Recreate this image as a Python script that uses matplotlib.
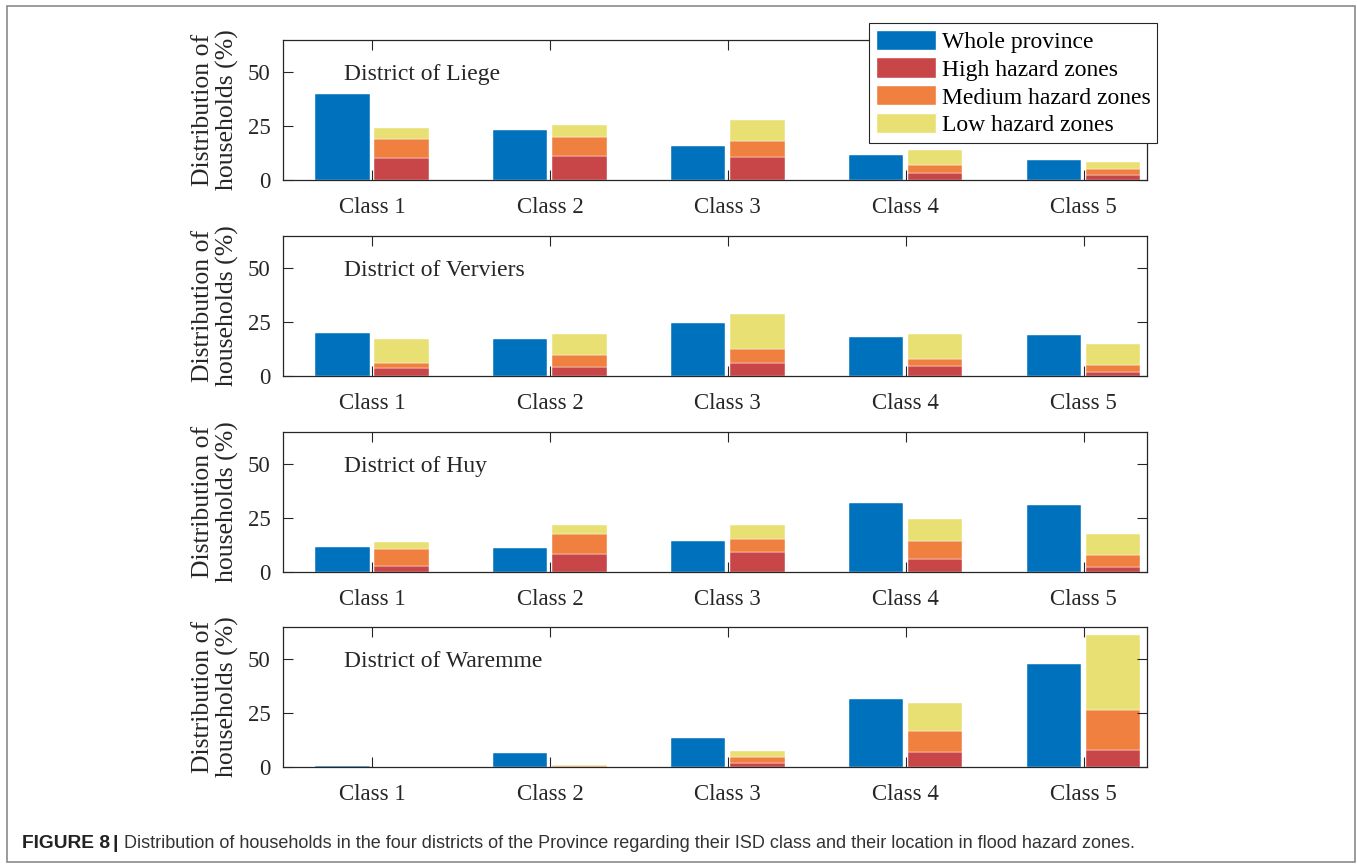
# Household distribution by ISD class and flood hazard zone, four districts

import matplotlib.pyplot as plt
from matplotlib.patches import Patch, Rectangle
import numpy as np

classes = ['Class 1', 'Class 2', 'Class 3', 'Class 4', 'Class 5']
districts = ['District of Liege', 'District of Verviers',
             'District of Huy', 'District of Waremme']

# whole province share (%) per class, one list per district
whole = [
    [39.7, 23.3, 15.6, 11.6, 9.1],
    [20.0, 17.1, 24.8, 18.2, 19.1],
    [11.7, 10.9, 14.2, 31.9, 30.9],
    [0.3, 6.5, 13.4, 31.5, 48.0],
]
# hazard zone shares (%), stacked high -> medium -> low
high = [
    [10.2, 11.3, 10.6, 3.4, 2.2],
    [3.7, 4.3, 6.1, 4.7, 1.9],
    [3.0, 8.3, 9.1, 6.2, 2.5],
    [0.0, 0.1, 1.7, 7.0, 8.1],
]
medium = [
    [8.9, 8.5, 7.5, 3.7, 2.9],
    [2.2, 5.5, 6.3, 3.2, 3.1],
    [7.6, 9.5, 6.2, 8.0, 5.2],
    [0.0, 0.2, 2.8, 9.8, 18.5],
]
low = [
    [5.1, 5.5, 9.7, 6.6, 3.2],
    [11.2, 9.5, 16.2, 11.8, 9.8],
    [3.5, 4.1, 6.3, 10.3, 10.0],
    [0.0, 0.7, 3.1, 13.1, 34.8],
]
yticks = [0, 25, 50]

c_whole = '#0072BD'
c_high = '#C84648'
c_med = '#F08040'
c_low = '#E8E072'

plt.rcParams['font.family'] = ['Liberation Serif', 'DejaVu Serif']

fig = plt.figure(figsize=(13.57, 8.64), dpi=100)

x = np.arange(1, len(classes) + 1)
w = 0.305
off = 0.166
bottoms = [0.7917, 0.5648, 0.3380, 0.1123]

for i, name in enumerate(districts):
    ax = fig.add_axes([0.2085, bottoms[i], 0.6367, 0.162])
    ek = dict(edgecolor='white', linewidth=0.3)
    ax.bar(x - off, whole[i], w, color=c_whole, **ek)
    h = np.array(high[i])
    m = np.array(medium[i])
    l = np.array(low[i])
    ax.bar(x + off, h, w, color=c_high, **ek)
    ax.bar(x + off, m, w, bottom=h, color=c_med, **ek)
    ax.bar(x + off, l, w, bottom=h + m, color=c_low, **ek)

    ax.set_xlim(0.5, 5.355)
    ax.set_ylim(0, 65)
    ax.set_xticks(x)
    ax.set_xticklabels(classes)
    ax.set_yticks(yticks)
    ax.tick_params(direction='in', length=7, width=0.8, top=True, right=True,
                   labelsize=16.5, colors='#262626')
    ax.tick_params(axis='x', pad=12)
    ax.tick_params(axis='y', pad=9)
    for s in ax.spines.values():
        s.set_color('#262626')
        s.set_linewidth(0.9)
    ax.set_ylabel('Distribution of\nhouseholds (%)', fontsize=18.5,
                  color='#262626', labelpad=6, linespacing=1.15)
    ax.text(0.0706, 0.757, name, transform=ax.transAxes, fontsize=17,
            va='center', ha='left', color='#262626')

handles = [Patch(facecolor=c_whole, edgecolor='white'),
           Patch(facecolor=c_high, edgecolor='white'),
           Patch(facecolor=c_med, edgecolor='white'),
           Patch(facecolor=c_low, edgecolor='white')]
labels = ['Whole province', 'High hazard zones', 'Medium hazard zones',
          'Low hazard zones']
leg = fig.legend(handles, labels, loc='upper right',
                 bbox_to_anchor=(0.8526, 0.9734), fontsize=17,
                 handlelength=2.55, handleheight=0.93, handletextpad=0.25,
                 labelspacing=0.2, borderpad=0.28, borderaxespad=0,
                 fancybox=False, framealpha=1, edgecolor='#262626')
leg.get_frame().set_linewidth(0.8)

# figure frame and caption
fig.patches.append(Rectangle((7 / 1357, 0.002), 1348 / 1357, 1 - 6 / 864 - 0.002,
                             transform=fig.transFigure, fill=False,
                             edgecolor='#8a8a8a', linewidth=1.2))
cap_y = 1 - 843 / 864
fig.text(22 / 1357, cap_y, 'FIGURE 8', fontsize=13.8, fontweight='bold',
         family='Liberation Sans', va='center', ha='left', color='#222222')
fig.text(113 / 1357, cap_y, '|', fontsize=13.8, fontweight='bold',
         family='Liberation Sans', va='center', ha='left', color='#222222')
fig.text(124 / 1357, cap_y,
         'Distribution of households in the four districts of the Province '
         'regarding their ISD class and their location in flood hazard zones.',
         fontsize=12.95, family='Liberation Sans',
         va='center', ha='left', color='#333333')

fig.savefig('out.png', dpi=100)
